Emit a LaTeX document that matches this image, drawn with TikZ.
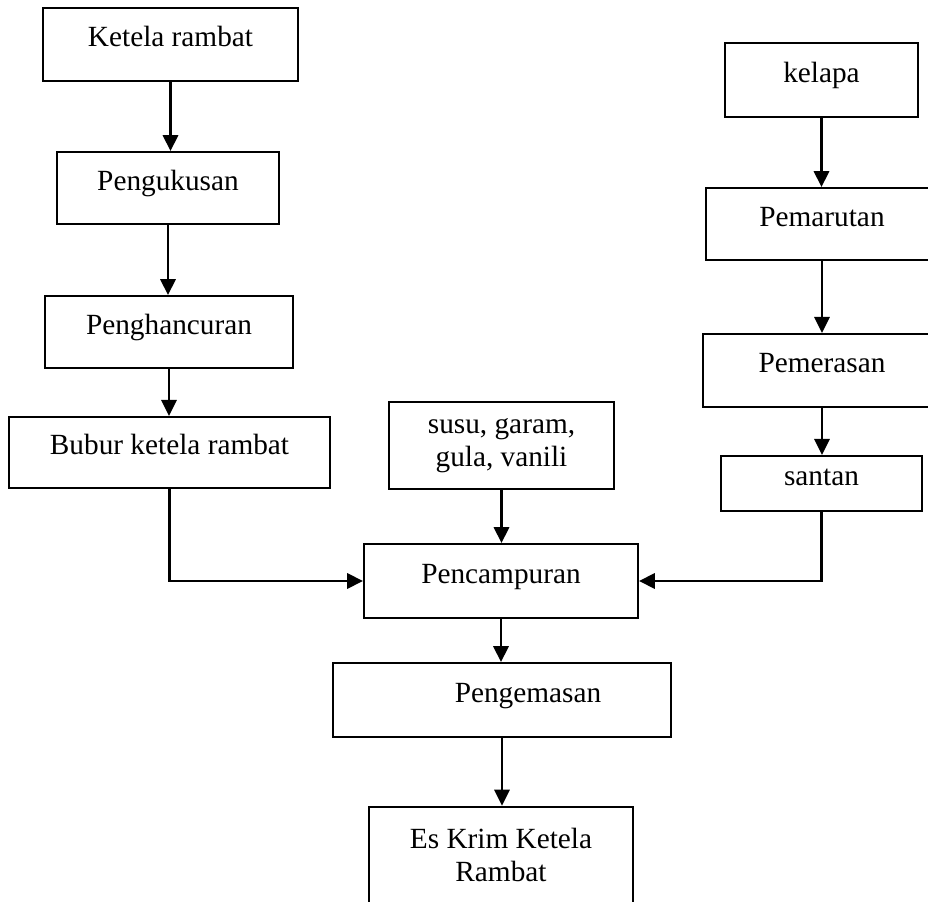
\documentclass[tikz,border=0pt]{standalone}
\usepackage{fontspec}
\setmainfont{Liberation Serif}
\usetikzlibrary{arrows.meta}

\tikzset{kotak/.style = {draw, rectangle, line width = 0.8pt, align = center, inner sep = 0pt,
                         text height = 0.7em, text depth = 0.5em,
                         font = \fontsize{12.5}{14}\selectfont},
         panah/.style = {-{Triangle[length = 2.4mm, width = 2.3mm]}, line width = 1pt}
        }

\begin{document}
\begin{tikzpicture}[x=0.015cm, y=-0.015cm]
  \useasboundingbox (0, 0) rectangle (928, 902);
  \clip (0, 0) rectangle (928, 902);
  % kolom kiri
  \node[kotak, minimum width = 3.83cm, minimum height = 1.10cm] (ketela) at (170.5, 44.5) {Ketela rambat};
  \node[kotak, minimum width = 3.33cm, minimum height = 1.08cm] (kukus) at (168, 188) {Pengukusan};
  \node[kotak, minimum width = 3.72cm, minimum height = 1.08cm] (hancur) at (169, 332) {Penghancuran};
  \node[kotak, minimum width = 4.82cm, minimum height = 1.07cm] (bubur) at (169.5, 452.5) {Bubur ketela rambat};
  % kolom kanan
  \node[kotak, minimum width = 2.90cm, minimum height = 1.11cm] (kelapa) at (821.5, 80) {kelapa};
  \node[kotak, minimum width = 3.48cm, minimum height = 1.08cm] (parut) at (822, 224) {Pemarutan};
  \node[kotak, minimum width = 3.57cm, minimum height = 1.10cm] (peras) at (822, 370.5) {Pemerasan};
  \node[kotak, minimum width = 3.02cm, minimum height = 0.83cm] (santan) at (821.5, 483.5) {santan};
  % tengah
  \node[kotak, text height =, text depth =, minimum width = 3.38cm, minimum height = 1.31cm] (susu) at (501.5, 445.5) {susu, garam,\\ gula, vanili};
  \node[kotak, minimum width = 4.11cm, minimum height = 1.11cm] (campur) at (501, 581) {Pencampuran};
  \node[kotak, minimum width = 5.07cm, minimum height = 1.11cm] (kemas) at (502, 700) {\hspace*{0.78cm}Pengemasan};
  \node[kotak, text height =, text depth =, minimum width = 3.96cm, minimum height = 1.45cm] (eskrim) at (501, 855) {Es Krim Ketela\\ Rambat};

  \draw[panah] (ketela.south) -- (ketela.south |- kukus.north);
  \draw[panah] (kukus.south) -- (kukus.south |- hancur.north);
  \draw[panah] (hancur.south) -- (hancur.south |- bubur.north);
  \draw[panah] (kelapa.south) -- (kelapa.south |- parut.north);
  \draw[panah] (parut.south) -- (parut.south |- peras.north);
  \draw[panah] (peras.south) -- (peras.south |- santan.north);
  \draw[panah] (bubur.south) |- (campur.west);
  \draw[panah] (santan.south) |- (campur.east);
  \draw[panah] (susu.south) -- (susu.south |- campur.north);
  \draw[panah] (campur.south) -- (campur.south |- kemas.north);
  \draw[panah] (kemas.south) -- (kemas.south |- eskrim.north);
\end{tikzpicture}
\end{document}
